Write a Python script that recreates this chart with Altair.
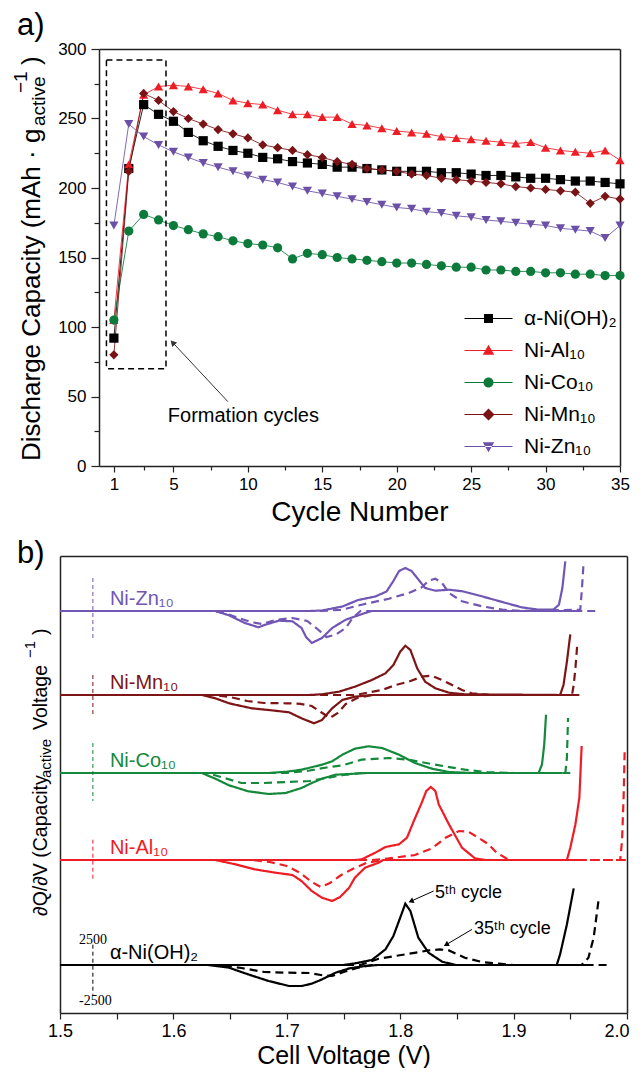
import altair as alt
import pandas as pd

FONT = "Liberation Sans"
SERIF = "Liberation Serif"

# ---------------- shared series ----------------
SERIES = ["α-Ni(OH)₂", "Ni-Al₁₀", "Ni-Co₁₀", "Ni-Mn₁₀", "Ni-Zn₁₀"]
COLORS_A = ["#000000", "#EE1C25", "#0C7A3A", "#7A1315", "#6A50A7"]
COLORS_B = ["#000000", "#EE1C25", "#14893C", "#7D1416", "#7156B4"]
SHAPES = ["square", "triangle-up", "circle", "diamond", "triangle-down"]

# ---------------- panel a data ----------------
CYCLES = list(range(1, 36))
CAP_ALPHA = [92, 214, 260, 253, 248, 240, 234, 230, 227, 225, 222, 221, 219, 218, 217,
             215, 215, 214, 213, 212, 212, 212, 211, 211, 210, 209, 209, 208, 207, 207,
             206, 205, 205, 204, 203]
CAP_AL = [105, 217, 267, 273, 274, 273, 271, 268, 263, 261, 260, 256, 253, 253, 251,
          251, 246, 245, 243, 241, 240, 239, 237, 236, 235, 234, 233, 232, 233, 229,
          227, 226, 225, 227, 220]
CAP_CO = [105, 169, 181, 177, 173, 170, 167, 165, 162, 160, 159, 157, 149, 153, 152,
          150, 149, 148, 147, 146, 146, 145, 144, 143, 143, 141, 141, 140, 140, 139,
          139, 138, 138, 137, 137]
CAP_MN = [80, 212, 268, 263, 255, 250, 246, 242, 239, 236, 231, 229, 227, 224, 222,
          219, 217, 214, 213, 212, 210, 209, 207, 206, 205, 204, 203, 201, 200, 199,
          198, 197, 189, 194, 192]
CAP_ZN = [173, 246, 237, 231, 226, 222, 218, 215, 212, 209, 206, 204, 201, 198, 196,
          194, 192, 190, 188, 186, 185, 183, 182, 180, 179, 177, 176, 175, 174, 173,
          171, 170, 169, 164, 173]

XA_TICKS = [1, 3, 5, 7.5, 10, 12.5, 15, 17.5, 20, 22.5, 25, 27.5, 30, 32.5, 35]
YA_TICKS = list(range(0, 301, 25))

# formation-cycle box and annotation (data coordinates)
BOX = {"x": [0.5], "x2": [4.5], "y": [70], "y2": [292]}
FORM_TEXT = {"x": [9.7], "y": [32], "t": ["Formation cycles"]}
FORM_ARROW = {"x": [8.66], "y": [46.3], "x2": [4.95], "y2": [88.8], "ang": [317]}

# ---------------- panel b data (dQ/dV, offset per material) ----------------
OFFSETS = [0, 10500, 19200, 27000, 35400]

BLK_5_CHG = [(1.50, 0), (1.750, 0), (1.760, 160), (1.775, 500), (1.787, 1560), (1.794, 2900),
             (1.800, 4730), (1.8045, 6130), (1.809, 5400), (1.816, 2730), (1.825, 1230),
             (1.837, 330), (1.849, 0), (1.938, 0), (1.941, 1060), (1.947, 4060), (1.953, 7660)]
BLK_5_DIS = [(1.965, 0), (1.780, 0), (1.769, -100), (1.755, -340), (1.743, -770), (1.731, -1440),
             (1.722, -1870), (1.713, -2100), (1.702, -2100), (1.684, -1600), (1.666, -940),
             (1.649, -270), (1.631, 0), (1.50, 0)]
BLK_35_CHG = [(1.50, 0), (1.765, 0), (1.781, 630), (1.8045, 1060), (1.825, 1460), (1.835, 1560),
              (1.843, 1460), (1.857, 730), (1.872, 300), (1.887, 130), (1.900, 0), (1.960, 0),
              (1.966, 730), (1.9706, 2730), (1.975, 6560)]
BLK_35_DIS = [(1.982, 0), (1.775, 0), (1.762, -300), (1.750, -700), (1.740, -1100), (1.730, -1000),
              (1.720, -800), (1.700, -770), (1.680, -700), (1.660, -300), (1.640, 0), (1.50, 0)]

AL_5_CHG = [(1.50, 0), (1.760, 0), (1.766, 60), (1.778, 730), (1.787, 1300), (1.799, 1570),
            (1.806, 2230), (1.812, 3900), (1.819, 5730), (1.823, 6900), (1.827, 7300),
            (1.831, 6900), (1.834, 5560), (1.843, 3560), (1.8545, 1230), (1.866, 160),
            (1.875, 0), (1.947, 0), (1.950, 1230), (1.9545, 3560), (1.958, 6230), (1.960, 11400)]
AL_5_DIS = [(1.960, 0), (1.785, 0), (1.781, -270), (1.769, -770), (1.760, -1770), (1.755, -2770),
            (1.747, -3700), (1.740, -4100), (1.731, -3770), (1.722, -3100), (1.713, -2100),
            (1.705, -1500), (1.690, -1270), (1.672, -940), (1.655, -440), (1.637, 0), (1.50, 0)]
AL_35_CHG = [(1.50, 0), (1.775, 0), (1.790, 160), (1.813, 500), (1.828, 1160), (1.840, 2230),
             (1.852, 2900), (1.860, 2830), (1.869, 2230), (1.878, 1560), (1.885, 730),
             (1.896, 0), (1.994, 0), (1.9956, 1900), (1.997, 6230), (1.998, 11200)]
AL_35_DIS = [(1.999, 0), (1.785, 0), (1.770, -300), (1.758, -900), (1.748, -1500), (1.738, -2300),
             (1.730, -2700), (1.722, -2200), (1.712, -1300), (1.700, -600), (1.685, -200),
             (1.670, 0), (1.50, 0)]

CO_5_CHG = [(1.50, 0), (1.684, 0), (1.700, 130), (1.713, 330), (1.731, 830), (1.740, 1170),
            (1.749, 1830), (1.760, 2430), (1.772, 2670), (1.784, 2500), (1.799, 1830),
            (1.813, 1000), (1.828, 430), (1.843, 100), (1.863, 0), (1.922, 0), (1.925, 830),
            (1.927, 2830), (1.9286, 5830)]
CO_5_DIS = [(1.943, 0), (1.770, 0), (1.760, -70), (1.743, -170), (1.731, -570), (1.722, -1000),
            (1.713, -1500), (1.699, -2000), (1.684, -2100), (1.666, -1830), (1.649, -1230),
            (1.637, -570), (1.625, 0), (1.50, 0)]
CO_35_CHG = [(1.50, 0), (1.700, 0), (1.720, 250), (1.735, 550), (1.749, 770), (1.766, 1330),
             (1.790, 1500), (1.8075, 1330), (1.831, 830), (1.857, 330), (1.878, 70),
             (1.900, 0), (1.9456, 0), (1.947, 1500), (1.948, 5500)]
CO_35_DIS = [(1.950, 0), (1.765, 0), (1.750, -200), (1.735, -500), (1.720, -800), (1.700, -900),
             (1.680, -1000), (1.660, -1000), (1.645, -500), (1.630, 0), (1.50, 0)]

MN_5_CHG = [(1.50, 0), (1.720, 0), (1.731, 70), (1.746, 330), (1.760, 830), (1.775, 1500),
            (1.787, 2170), (1.794, 3000), (1.800, 4330), (1.8045, 4930), (1.809, 4500),
            (1.815, 2670), (1.822, 1330), (1.831, 670), (1.843, 230), (1.857, 70), (1.941, 0),
            (1.944, 1000), (1.947, 3330), (1.950, 6070)]
MN_5_DIS = [(1.956, 0), (1.775, 0), (1.760, -170), (1.749, -500), (1.740, -1330), (1.731, -2500),
            (1.724, -2830), (1.713, -2330), (1.702, -1730), (1.684, -1500), (1.669, -1330),
            (1.649, -830), (1.637, -330), (1.625, 0), (1.50, 0)]
MN_35_CHG = [(1.50, 0), (1.760, 0), (1.784, 500), (1.796, 1000), (1.8075, 1330), (1.819, 1830),
             (1.828, 1930), (1.840, 1330), (1.8545, 500), (1.863, 170), (1.878, 0),
             (1.9515, 0), (1.953, 1000), (1.9545, 2670), (1.956, 4830)]
MN_35_DIS = [(1.958, 0), (1.775, 0), (1.762, -300), (1.752, -900), (1.745, -1800), (1.738, -2300),
             (1.730, -1700), (1.722, -1100), (1.712, -880), (1.700, -830), (1.680, -800),
             (1.665, -600), (1.650, -200), (1.635, 0), (1.50, 0)]

ZN_5_CHG = [(1.50, 0), (1.720, 0), (1.731, 50), (1.749, 450), (1.763, 1100), (1.778, 1450),
            (1.788, 1950), (1.794, 3000), (1.799, 4000), (1.8045, 4300), (1.810, 4000),
            (1.815, 3300), (1.822, 2300), (1.831, 2030), (1.843, 2130), (1.855, 1970),
            (1.872, 1470), (1.890, 900), (1.907, 370), (1.922, 130), (1.935, 130),
            (1.940, 630), (1.943, 2300), (1.9456, 4970)]
ZN_5_DIS = [(1.956, 0), (1.775, 0), (1.769, -200), (1.752, -870), (1.740, -1700), (1.731, -2700),
            (1.722, -3200), (1.717, -2600), (1.713, -1700), (1.705, -1030), (1.693, -970),
            (1.681, -1370), (1.675, -1630), (1.663, -1200), (1.649, -430), (1.637, 0), (1.50, 0)]
ZN_35_CHG = [(1.50, 0), (1.730, 0), (1.749, 130), (1.766, 630), (1.790, 1230), (1.8075, 1800),
             (1.819, 2370), (1.825, 3030), (1.831, 3230), (1.837, 2800), (1.843, 1800),
             (1.8545, 970), (1.872, 470), (1.890, 130), (1.907, 0), (1.9588, 130),
             (1.9603, 2300), (1.9618, 4970)]
ZN_35_DIS = [(1.972, 0), (1.765, 0), (1.758, -700), (1.752, -1700), (1.743, -2370), (1.735, -2600),
             (1.727, -1800), (1.718, -1000), (1.705, -700), (1.690, -900), (1.678, -1300),
             (1.668, -1100), (1.655, -600), (1.645, -200), (1.635, 0), (1.50, 0)]

CURVES = [
    (BLK_5_CHG, BLK_5_DIS, BLK_35_CHG, BLK_35_DIS),
    (AL_5_CHG, AL_5_DIS, AL_35_CHG, AL_35_DIS),
    (CO_5_CHG, CO_5_DIS, CO_35_CHG, CO_35_DIS),
    (MN_5_CHG, MN_5_DIS, MN_35_CHG, MN_35_DIS),
    (ZN_5_CHG, ZN_5_DIS, ZN_35_CHG, ZN_35_DIS),
]

SCALEBAR_V = 1.529
SCALEBAR_TOP = [2030, 2030, 3000, 2000, 3300]
SCALEBAR_BOT = [-2970, -2070, -2800, -2160, -2700]
LABEL_V = 1.544
LABEL_DY = 600
SCALE_TXT = {"v": [1.5168, 1.5168], "q": [2130, -3970], "t": ["2500", "-2500"]}
CYC_TXT = {"v": [1.8307, 1.865], "q": [6730, 3130], "t": ["5ᵗʰ cycle", "35ᵗʰ cycle"]}
CYC_ARROWS = {"v": [1.8295, 1.8633], "q": [7400, 3560], "v2": [1.8095, 1.8405],
              "q2": [6380, 2030], "ang": [247, 241]}

# ---------------- frames ----------------
dfa = pd.DataFrame({
    "cycle": CYCLES * 5,
    "cap": CAP_ALPHA + CAP_AL + CAP_CO + CAP_MN + CAP_ZN,
    "series": sum([[s] * len(CYCLES) for s in SERIES], []),
})

rows = []
for s, off, segs in zip(SERIES, OFFSETS, CURVES):
    for (cyc, br), pts in zip([("5th", "c"), ("5th", "d"), ("35th", "c"), ("35th", "d")], segs):
        for i, (v, q) in enumerate(pts):
            rows.append({"series": s, "cycle": cyc, "seg": f"{s}|{cyc}|{br}", "idx": i,
                         "v": v, "q": q + off})
dfb = pd.DataFrame(rows)
dfb["cycle_order"] = dfb["cycle"].map({"35th": 0, "5th": 1})
dfb = dfb.sort_values(["cycle_order", "seg", "idx"]).reset_index(drop=True)

dfbar = pd.DataFrame({"series": SERIES, "v": [SCALEBAR_V] * 5,
                      "top": [o + t for o, t in zip(OFFSETS, SCALEBAR_TOP)],
                      "bot": [o + b for o, b in zip(OFFSETS, SCALEBAR_BOT)]})
dflab = pd.DataFrame({"series": SERIES, "v": [LABEL_V] * 5,
                      "q": [o + LABEL_DY for o in OFFSETS]})

one = pd.DataFrame({"k": [0]})


def ptext(txt, px, py, size, angle=0, color="black", font=FONT):
    return alt.Chart(one).mark_text(
        text=txt, fontSize=size, font=font, angle=angle, align="left",
        baseline="alphabetic", color=color,
    ).encode(x=alt.value(px), y=alt.value(py))


# ---------------- panel a ----------------
xa = alt.Scale(domain=[0, 35], range=[39, 560], nice=False, zero=False)
ya = alt.Scale(domain=[0, 300], nice=False, zero=False)
col_a = alt.Scale(domain=SERIES, range=COLORS_A)

xa_test = "indexof([1,5,10,15,20,25,30,35], datum.value) >= 0"
ya_test = "datum.value % 50 == 0"
axis_xa = alt.Axis(values=XA_TICKS, labelExpr=f"{xa_test} ? datum.label : ''",
                   tickSize={"condition": {"test": xa_test, "value": 6}, "value": 4},
                   title="Cycle Number", titleFontSize=28, titlePadding=6,
                   labelFontSize=17, labelPadding=4, labelFlush=False, labelOverlap=False,
                   grid=False)
axis_ya = alt.Axis(values=YA_TICKS, labelExpr=f"{ya_test} ? datum.label : ''",
                   tickSize={"condition": {"test": ya_test, "value": 8}, "value": 5},
                   offset=-39, title=None, labelFontSize=17, labelPadding=5,
                   labelFlush=False, labelOverlap=False, grid=False)
frame_x = alt.Axis(orient="top", labels=False, ticks=False, title=None, grid=False)
frame_y = alt.Axis(orient="right", labels=False, ticks=False, title=None, grid=False)

lines_a = alt.Chart(dfa).mark_line(strokeWidth=1, opacity=0.85).encode(
    x=alt.X("cycle:Q", scale=xa, axis=axis_xa),
    y=alt.Y("cap:Q", scale=ya, axis=axis_ya),
    color=alt.Color("series:N", scale=col_a, legend=None),
    detail="series:N",
)
pts_a = alt.Chart(dfa).mark_point(filled=True, size=85, opacity=1).encode(
    x=alt.X("cycle:Q", scale=xa, axis=None),
    y=alt.Y("cap:Q", scale=ya, axis=None),
    color=alt.Color("series:N", scale=col_a, legend=None),
    shape=alt.Shape("series:N", scale=alt.Scale(domain=SERIES, range=SHAPES), legend=None),
)

LINE = "M-4.8,-0.11H4.8V0.11H-4.8Z"
LEG_PATHS = [
    LINE + "M-0.9,-0.9H0.9V0.9H-0.9Z",
    LINE + "M0,-1.15L1.15,0.85H-1.15Z",
    LINE + "M-1,0A1,1,0,1,1,1,0A1,1,0,1,1,-1,0Z",
    LINE + "M0,-1.2L1.2,0L0,1.2L-1.2,0Z",
    LINE + "M0,1.15L1.15,-0.85H-1.15Z",
]
leg = alt.Legend(orient="none", legendX=418, legendY=259, title=None, labelFont=FONT,
                 labelFontSize=21, labelColor="black", labelOffset=25, rowPadding=10,
                 symbolSize=100, symbolStrokeWidth=0, padding=0)
leg_a = alt.Chart(dfa).transform_filter("false").mark_point(filled=True, opacity=1).encode(
    x=alt.X("cycle:Q", scale=xa, axis=None),
    y=alt.Y("cap:Q", scale=ya, axis=None),
    color=alt.Color("series:N", scale=col_a, legend=leg),
    shape=alt.Shape("series:N", scale=alt.Scale(domain=SERIES, range=LEG_PATHS), legend=leg),
)

box_a = alt.Chart(pd.DataFrame(BOX)).mark_rect(
    fillOpacity=0, stroke="black", strokeWidth=1.5, strokeDash=[6, 4]
).encode(
    x=alt.X("x:Q", scale=xa, axis=frame_x), x2="x2:Q",
    y=alt.Y("y:Q", scale=ya, axis=frame_y), y2="y2:Q",
)
form_txt = alt.Chart(pd.DataFrame(FORM_TEXT)).mark_text(
    font=FONT, fontSize=20, align="center", baseline="alphabetic", color="black"
).encode(x=alt.X("x:Q", scale=xa, axis=None), y=alt.Y("y:Q", scale=ya, axis=None), text="t:N")
form_arrow = alt.Chart(pd.DataFrame(FORM_ARROW)).mark_rule(color="#333333", strokeWidth=1).encode(
    x=alt.X("x:Q", scale=xa, axis=None), x2="x2:Q",
    y=alt.Y("y:Q", scale=ya, axis=None), y2="y2:Q",
)
form_head = alt.Chart(pd.DataFrame(FORM_ARROW)).mark_point(
    shape="triangle-up", filled=True, size=45, opacity=1, color="#333333"
).encode(x=alt.X("x2:Q", scale=xa, axis=None), y=alt.Y("y2:Q", scale=ya, axis=None),
         angle=alt.Angle("ang:Q", scale=None))

title_a = [
    ptext("Discharge Capacity (mAh · g", -20, 412, 26, 270),
    ptext("active", -15, 77, 19, 270),
    ptext("−1", -33, 44, 19, 270),
    ptext(")", -20, 16, 26, 270),
    ptext("a)", -43, -14, 31),
]

panel_a = alt.layer(
    lines_a, pts_a, leg_a, box_a, form_txt, form_arrow, form_head, *title_a
).resolve_scale(color="independent", shape="independent").resolve_axis(
    x="independent", y="independent"
).properties(width=560, height=417)

# ---------------- panel b ----------------
xb = alt.Scale(domain=[1.5, 2.0], nice=False, zero=False)
yb = alt.Scale(domain=[-4800, 40900], nice=False, zero=False)
col_b = alt.Scale(domain=SERIES, range=COLORS_B)

XB_TICKS = [1.5, 1.55, 1.6, 1.65, 1.7, 1.75, 1.8, 1.85, 1.9, 1.95, 2.0]
last_test = "datum.value > 1.99"
axis_xb = alt.Axis(values=XB_TICKS, format=".1f",
                   labelExpr="round(datum.value*100) % 10 == 0 ? datum.label : ''",
                   labelAlign={"condition": {"test": last_test, "value": "right"},
                               "value": "center"},
                   labelOffset={"condition": {"test": last_test, "value": 2}, "value": 0},
                   tickSize=6, title="Cell Voltage (V)", titleFontSize=25, titlePadding=3,
                   labelFontSize=18, labelPadding=3, labelFlush=False, labelOverlap=False,
                   grid=False)
axis_yb = alt.Axis(labels=False, ticks=False, title=None, grid=False)

curves = alt.Chart(dfb).mark_line(strokeWidth=2.2).encode(
    x=alt.X("v:Q", scale=xb, axis=axis_xb),
    y=alt.Y("q:Q", scale=yb, axis=axis_yb),
    color=alt.Color("series:N", scale=col_b, legend=None),
    strokeDash=alt.StrokeDash("cycle:N", scale=alt.Scale(domain=["5th", "35th"],
                                                         range=[[1, 0], [8, 5]]), legend=None),
    detail="seg:N",
    order="idx:Q",
)
bars = alt.Chart(dfbar).mark_rule(strokeWidth=1, strokeDash=[4, 3]).encode(
    x=alt.X("v:Q", scale=xb, axis=frame_x),
    y=alt.Y("top:Q", scale=yb, axis=frame_y), y2="bot:Q",
    color=alt.Color("series:N", scale=col_b, legend=None),
)
labels_b = alt.Chart(dflab).mark_text(font=FONT, fontSize=20, align="left",
                                      baseline="alphabetic").encode(
    x=alt.X("v:Q", scale=xb, axis=None),
    y=alt.Y("q:Q", scale=yb, axis=None),
    text="series:N",
    color=alt.Color("series:N", scale=col_b, legend=None),
)
scale_txt = alt.Chart(pd.DataFrame(SCALE_TXT)).mark_text(
    font=SERIF, fontSize=14, align="left", baseline="alphabetic", color="black"
).encode(x=alt.X("v:Q", scale=xb, axis=None), y=alt.Y("q:Q", scale=yb, axis=None), text="t:N")
cyc_txt = alt.Chart(pd.DataFrame(CYC_TXT)).mark_text(
    font=FONT, fontSize=18, align="left", baseline="alphabetic", color="black"
).encode(x=alt.X("v:Q", scale=xb, axis=None), y=alt.Y("q:Q", scale=yb, axis=None), text="t:N")
cyc_arrow = alt.Chart(pd.DataFrame(CYC_ARROWS)).mark_rule(color="black", strokeWidth=1).encode(
    x=alt.X("v:Q", scale=xb, axis=None), x2="v2:Q",
    y=alt.Y("q:Q", scale=yb, axis=None), y2="q2:Q",
)
cyc_head = alt.Chart(pd.DataFrame(CYC_ARROWS)).mark_point(
    shape="triangle-up", filled=True, size=35, opacity=1, color="black"
).encode(x=alt.X("v2:Q", scale=xb, axis=None), y=alt.Y("q2:Q", scale=yb, axis=None),
         angle=alt.Angle("ang:Q", scale=None))

title_b = [
    ptext("∂Q/∂V (Capacity", -13, 360, 19.5, 270),
    ptext("active", -9, 222, 15, 270),
    ptext("Voltage", -13, 174, 19.5, 270),
    ptext("−1", -25, 102, 15, 270),
    ptext(")", -13, 79, 19.5, 270),
    ptext("b)", -43, 7, 31),
]

panel_b = alt.layer(
    curves, bars, labels_b, scale_txt, cyc_txt, cyc_arrow, cyc_head, *title_b
).resolve_axis(x="independent", y="independent").properties(width=567, height=457)

chart = alt.vconcat(panel_a, panel_b, spacing=90, bounds="flush").resolve_scale(
    color="independent", shape="independent", strokeDash="independent"
).properties(
    padding={"left": 4, "top": 2, "right": 0, "bottom": 0}
).configure_view(stroke=None).configure_axis(
    labelFont=FONT, titleFont=FONT, titleFontWeight="normal", labelColor="black",
    titleColor="black", domainColor="#222222", domainWidth=1.5, tickColor="#222222",
    tickWidth=1.2,
)

chart.save("out.html", embed_options={"renderer": "svg", "actions": False})
